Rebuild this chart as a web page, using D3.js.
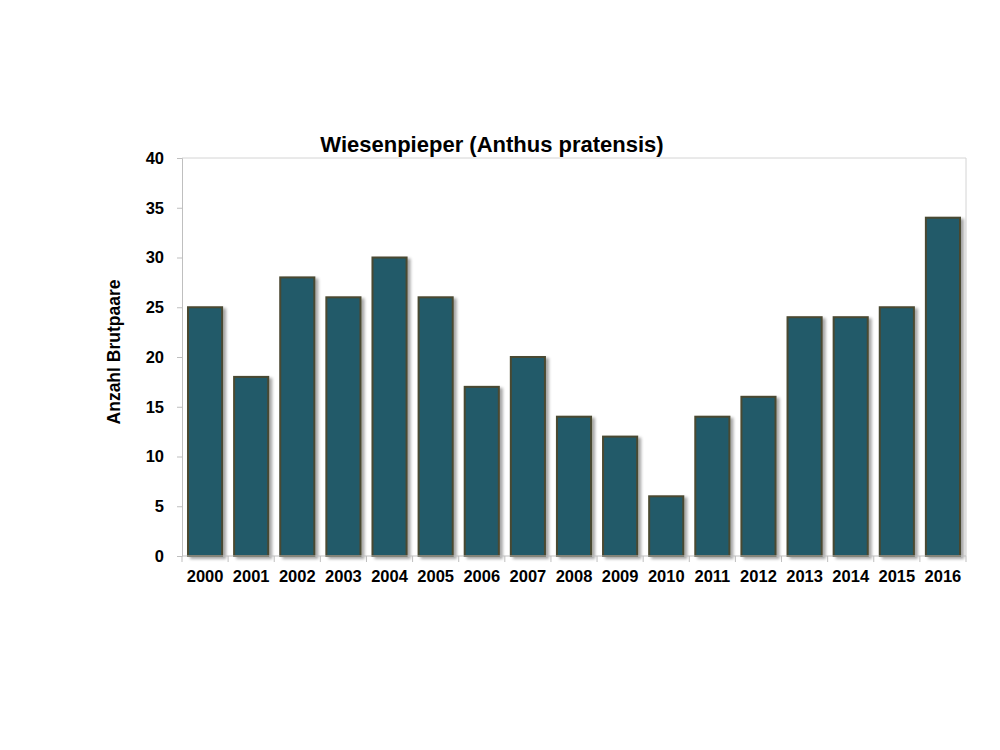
<!DOCTYPE html>
<html><head><meta charset="utf-8">
<script src="https://cdn.jsdelivr.net/npm/d3@7"></script>
<style>body{margin:0;background:#fff;} text{font-family:Arial,"Liberation Sans",sans-serif;font-weight:bold;}</style>
</head><body>
<svg id="c" width="1000" height="750"></svg>
<script>
const years = ["2000","2001","2002","2003","2004","2005","2006","2007","2008","2009","2010","2011","2012","2013","2014","2015","2016"];
const values = [25,18,28,26,30,26,17,20,14,12,6,14,16,24,24,25,34];
const yTicks = [0,5,10,15,20,25,30,35,40];

const svg = d3.select("#c");
const L=182, R=966, T=158, B=556;
const x = d3.scaleBand().domain(years).range([L,R]).paddingInner(0.26).paddingOuter(0.13);
const y = d3.scaleLinear().domain([0,40]).range([B,T]);

const defs = svg.append("defs");
const f = defs.append("filter").attr("id","sh").attr("x","-20%").attr("y","-20%").attr("width","150%").attr("height","150%");
f.append("feGaussianBlur").attr("in","SourceAlpha").attr("stdDeviation",1.5).attr("result","b");
f.append("feOffset").attr("in","b").attr("dx",3).attr("dy",2).attr("result","o");
f.append("feComponentTransfer").attr("in","o").attr("result","o2").append("feFuncA").attr("type","linear").attr("slope",0.35);
const m = f.append("feMerge"); m.append("feMergeNode").attr("in","o2"); m.append("feMergeNode").attr("in","SourceGraphic");

// plot border
svg.append("path").attr("d",`M${L},${T}H${R}V${B}`).attr("fill","none").attr("stroke","#d4d4d4").attr("stroke-width",1);

// bars
svg.append("g").selectAll("rect").data(values).join("rect")
  .attr("x",(d,i)=>x(years[i])).attr("y",d=>y(d))
  .attr("width",x.bandwidth()).attr("height",d=>B-y(d))
  .attr("fill","#235a69").attr("stroke","#4a4830").attr("stroke-width",2)
  .attr("filter","url(#sh)");

// y axis
const ya = svg.append("g").attr("transform",`translate(${L},0)`)
  .call(d3.axisLeft(y).tickValues(yTicks).tickSize(5).tickPadding(13));
ya.select(".domain").attr("stroke","#bfbfbf");
ya.selectAll(".tick line").attr("stroke","#bfbfbf");
ya.selectAll("text").attr("font-size",16.5).attr("fill","#000").style("font-family","Arial,'Liberation Sans',sans-serif");

// x axis
const xa = svg.append("g").attr("transform",`translate(0,${B})`)
  .call(d3.axisBottom(x).tickSize(0).tickPadding(14));
xa.select(".domain").attr("stroke","#bfbfbf").attr("d",`M${L},0H${R}`);
xa.selectAll("text").attr("font-size",16.5).attr("fill","#000").style("font-family","Arial,'Liberation Sans',sans-serif");
// category boundary ticks
svg.append("g").selectAll("line").data(d3.range(years.length+1)).join("line")
  .attr("x1",i=> i===years.length? R : x(years[i]) - (x.step()-x.bandwidth())/2)
  .attr("x2",i=> i===years.length? R : x(years[i]) - (x.step()-x.bandwidth())/2)
  .attr("y1",B).attr("y2",B+6).attr("stroke","#bfbfbf");

// title
svg.append("text").attr("x",492).attr("y",152).attr("text-anchor","middle").attr("font-size",22).attr("fill","#000").text("Wiesenpieper (Anthus pratensis)");
// y label
svg.append("text").attr("transform","translate(120,352) rotate(-90)").attr("text-anchor","middle").attr("font-size",17.5).attr("fill","#000").text("Anzahl Brutpaare");
</script>
</body></html>
